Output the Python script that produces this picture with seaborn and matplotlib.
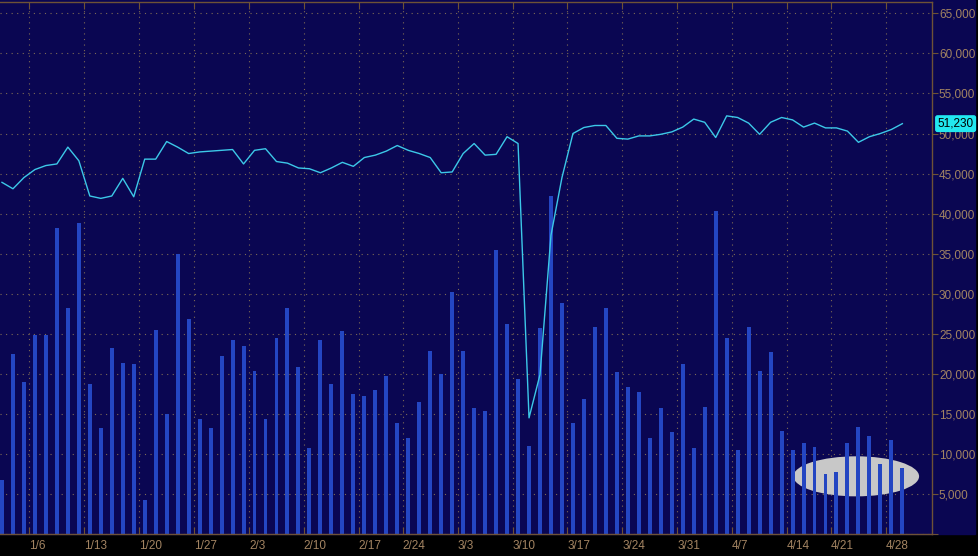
import numpy as np
import pandas as pd
import seaborn as sns
import matplotlib.pyplot as plt
from matplotlib.patches import Ellipse, Rectangle

plt.rcParams['font.family'] = ['Liberation Sans', 'DejaVu Sans']

# ---- data -------------------------------------------------------------
trading_days = pd.bdate_range('2013-12-31', '2014-04-29')
holidays = pd.to_datetime(['2014-01-01', '2014-02-17', '2014-04-18'])
trading_days = trading_days[~trading_days.isin(holidays)]

volume = [
    6700, 22500, 19000, 24800, 24900, 38200, 28200, 38800, 18700, 13200,
    23200, 21400, 21200, 4300, 25500, 15000, 34900, 26800, 14400, 13200,
    22200, 24200, 23500, 20300, 14300, 24500, 28200, 20900, 10700, 24200,
    18700, 25300, 17500, 17200, 18000, 19700, 13900, 12000, 16500, 22800,
    20000, 30200, 22900, 15700, 15300, 35500, 26200, 19400, 11000, 25700,
    42200, 28800, 13900, 16800, 25800, 28200, 20200, 18300, 17700, 12000,
    15700, 12700, 21200, 10700, 15900, 40300, 24500, 10500, 25900, 20300,
    22700, 12800, 10500, 11300, 10800, 7500, 7700, 11300, 13300, 12200,
    8700, 11700, 8300,
]

open_interest = [
    43900, 43100, 44500, 45500, 46000, 46200, 48300, 46600, 42200, 41900,
    42200, 44400, 42100, 46800, 46800, 49000, 48300, 47500, 47700, 47800,
    47900, 48000, 46200, 47900, 48100, 46500, 46300, 45700, 45600, 45100,
    45700, 46400, 45900, 47000, 47300, 47800, 48500, 47900, 47500, 47000,
    45100, 45200, 47500, 48750, 47300, 47400, 49600, 48750, 14500, 19900,
    37300, 44500, 50000, 50750, 51000, 51000, 49400, 49300, 49700, 49700,
    49900, 50200, 50800, 51800, 51400, 49500, 52200, 52000, 51300, 49900,
    51400, 52000, 51700, 50800, 51300, 50700, 50700, 50300, 48900, 49600,
    50000, 50500, 51230,
]

week_labels = ["1/6", "1/13", "1/20", "1/27", "2/3", "2/10", "2/17", "2/24",
               "3/3", "3/10", "3/17", "3/24", "3/31", "4/7", "4/14", "4/21", "4/28"]
y_ticks = list(range(0, 65001, 5000))
last_label = "51,230"

df = pd.DataFrame({'k': np.arange(len(trading_days)),
                   'volume': volume, 'oi': open_interest})

# ---- style ------------------------------------------------------------
navy = '#0a0652'
bar_c = '#2446c2'
line_c = '#3cc8e8'
grid_c = '#7d6a55'
spine_c = '#6e5236'
text_c = '#a38462'

W, H = 979, 556
fig = plt.figure(figsize=(W / 100, H / 100), dpi=100, facecolor='black')
fig.patches.append(Rectangle((0, (H - 534) / H), 975 / W, 534 / H,
                             transform=fig.transFigure, color=navy, zorder=-5))
ax = fig.add_axes([0, (H - 534) / H, 932 / W, (534 - 1.5) / H])
ax.set_facecolor(navy)

sns.barplot(data=df, x='k', y='volume', color=bar_c, saturation=1,
            width=0.36, errorbar=None, ax=ax, zorder=2, linewidth=0)
sns.lineplot(data=df, x='k', y='oi', color=line_c, linewidth=1.0, ax=ax,
             zorder=3)

# highlighted ellipse behind recent bars
ax.add_patch(Ellipse((77.8, 7200), width=11.45, height=5000,
                     facecolor='#c8c8c8', edgecolor='none', zorder=1.5))

ax.set_xlim(-0.18, 84.7)
ax.set_ylim(0, 66480)

# week ticks at the boundary before each week's first trading day
tick_pos = []
for lbl in week_labels:
    m, d = map(int, lbl.split('/'))
    monday = pd.Timestamp(2014, m, d)
    idx = int(np.argmax(trading_days >= monday))
    tick_pos.append(idx - 0.5)
ax.set_xticks(tick_pos)
ax.set_xticklabels(week_labels)
for t in ax.get_xticklabels():
    t.set_ha('left')

ax.yaxis.tick_right()
ax.set_yticks(y_ticks)
ax.set_yticklabels(['' if v == 0 else f'{v:,}' for v in y_ticks])

ax.set_xlabel('')
ax.set_ylabel('')
ax.set_axisbelow(True)
ax.grid(True, color=grid_c, linestyle=(0, (1, 4)), linewidth=0.8)

ax.tick_params(axis='x', bottom=True, top=True, direction='in', length=5,
               color=spine_c, labelcolor=text_c, labelsize=8.5, pad=4)
ax.tick_params(axis='y', right=True, left=False, direction='out', length=4,
               color=spine_c, labelcolor=text_c, labelsize=8.5, pad=1)

for side in ['top', 'right', 'bottom']:
    ax.spines[side].set_color(spine_c)
    ax.spines[side].set_linewidth(1.0)
ax.spines['left'].set_visible(False)

ax.annotate(last_label, xy=(1, open_interest[-1]),
            xycoords=('axes fraction', 'data'), xytext=(4, 0),
            textcoords='offset points', va='center', ha='left',
            fontsize=8.5, color='black', annotation_clip=False,
            bbox=dict(boxstyle='round,pad=0.15', fc='#22e8f0', ec='#22e8f0'),
            zorder=5)

fig.savefig('out.png', dpi=100, facecolor='black')
